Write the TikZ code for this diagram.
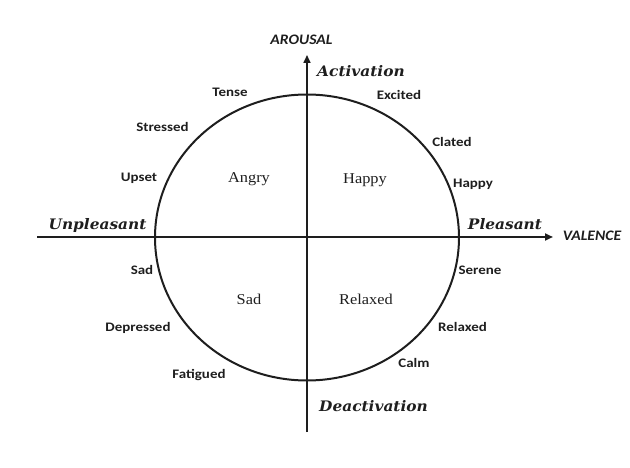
\documentclass[tikz,border=0pt]{standalone}
\usepackage{fontspec}
\usepackage{tikz}
\usetikzlibrary{arrows.meta,positioning}
\setmainfont{Liberation Serif}
\newfontfamily\emofont{Carlito}
\newfontfamily\polefont{DejaVu Serif}
\definecolor{ink}{RGB}{30,30,30}

\begin{document}
\begin{tikzpicture}[x=1pt,y=1pt,
  emo/.style={anchor=base,text=ink,inner sep=0pt,xscale=1.15,font=\emofont\bfseries\fontsize{13}{15}\selectfont},
  quad/.style={anchor=base,text=ink,inner sep=0pt,xscale=1.09,font=\fontsize{15}{17}\selectfont},
  pole/.style={anchor=base,text=ink,inner sep=0pt,xscale=1.06,font=\polefont\bfseries\itshape\fontsize{14.5}{17}\selectfont},
  axlabel/.style={anchor=base,text=ink,inner sep=0pt,xscale=1.08,font=\emofont\bfseries\itshape\fontsize{14.5}{17}\selectfont},
  axis/.style={draw=ink,-{Triangle[length=8pt,width=7pt]}}]
\useasboundingbox (0,-468) rectangle (630,0);

% axes and circle
\coordinate (o) at (307,-237.5);
\coordinate (west) at (37,-237);
\coordinate (east) at (553,-237);
\coordinate (south) at (307,-432);
\coordinate (north) at (307,-55);
\draw[ink,line width=2pt] (o) ellipse [x radius=152, y radius=143];
\draw[axis,line width=2.8pt] (west) -- (east);
\draw[axis,line width=1.6pt] (south) -- (north);

\node[axlabel] (arousal) at (301.5,-45) {AROUSAL};
\node[axlabel] (valence) at (592,-240.7) {VALENCE};
\node[pole,anchor=base west] (act) at (317,-76.7) {Activation};
\node[pole,anchor=base west] (deact) at (319,-411) {Deactivation};
\node[pole] (unpl) at (97.5,-230) {Unpleasant};
\node[pole] (pleas) at (505,-230) {Pleasant};

% affect words round the circle
\node[emo] (tense) at (230,-96.7) {Tense};
\node[emo] (excited) at (399,-100) {Excited};
\node[emo] (stressed) at (162.5,-132) {Stressed};
\node[emo] (clated) at (452,-146.7) {Clated};
\node[emo] (upset) at (139,-181.7) {Upset};
\node[emo] (happyout) at (473,-188) {Happy};
\node[emo] (sadout) at (142,-274) {Sad};
\node[emo] (serene) at (480,-275) {Serene};
\node[emo] (depressed) at (138,-331) {Depressed};
\node[emo] (relaxedout) at (462.5,-331.7) {Relaxed};
\node[emo] (fatigued) at (199,-378) {Fatigued};
\node[emo] (calm) at (414,-367) {Calm};

% quadrants
\node[quad] (angry) at (249,-183) {Angry};
\node[quad] (happy) at (365,-183.5) {Happy};
\node[quad] (sad) at (249,-305) {Sad};
\node[quad] (relaxed) at (366,-305) {Relaxed};
\end{tikzpicture}
\end{document}
